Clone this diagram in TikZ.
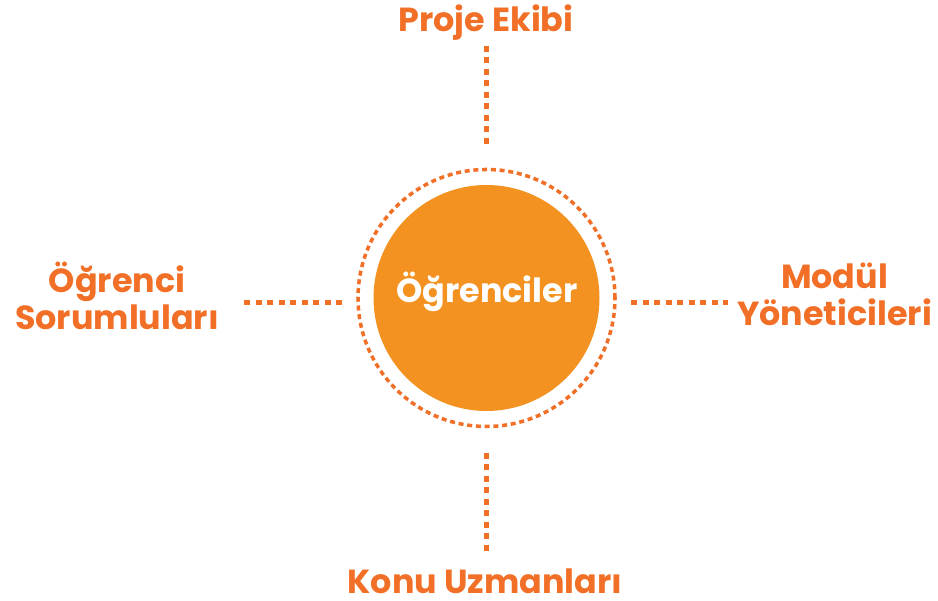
\documentclass[tikz,border=0pt]{standalone}
\usepackage{fontspec}
\setmainfont{Poppins}[UprightFont=* Bold]
\usetikzlibrary{calc}
\definecolor{turuncu}{RGB}{241,111,38}
\definecolor{dolgu}{RGB}{243,146,33}
\tikzset{
  etiket/.style={text=turuncu, font=\fontsize{19}{21}\selectfont, align=center, inner sep=0pt},
  kesik/.style={draw=turuncu, line width=2.85pt, dash pattern=on 0.12cm off 0.11cm}
}

\begin{document}
\begin{tikzpicture}
\useasboundingbox (0,0) rectangle (18.76,12.02);

\node[circle, fill=dolgu, minimum size=4.52cm, inner sep=0pt] (merkez) at (9.73,6.06) {};
\node[etiket, text=white, anchor=base] (baslik) at (9.74,5.96) {Öğrenciler};
\draw[turuncu, line width=2pt, dash pattern=on 0.1cm off 0.075cm] (merkez.center) circle (2.57cm);

\node[etiket, anchor=base] (proje) at (9.72,11.38) {Proje Ekibi};
\node[etiket, anchor=base] (konu) at (9.70,0.14) {Konu Uzmanları};
\node[etiket] (sorumlu) at (2.34,6.10) {Öğrenci\\Sorumluları};
\node[etiket] (modul) at (16.69,6.14) {Modül\\Yöneticileri};

\coordinate (ust1) at (9.73,11.10);
\coordinate (ust2) at (9.73,9.12);
\coordinate (alt1) at (9.72,2.96);
\coordinate (alt2) at (9.72,0.98);
\coordinate (sol1) at (4.88,5.97);
\coordinate (sol2) at (6.84,5.97);
\coordinate (sag1) at (12.62,5.97);
\coordinate (sag2) at (14.56,5.97);

\draw[kesik] (ust1) -- (ust2);
\draw[kesik] (alt1) -- (alt2);
\draw[kesik] (sol1) -- (sol2);
\draw[kesik] (sag1) -- (sag2);
\end{tikzpicture}
\end{document}
